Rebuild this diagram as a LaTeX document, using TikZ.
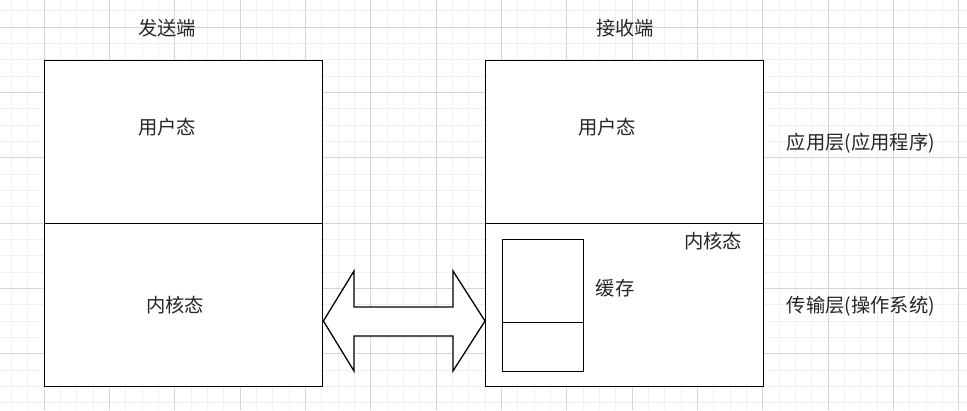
\documentclass[tikz,border=0pt]{standalone}
\usepackage{fontspec}
\setmainfont{Noto Sans CJK SC}
\usetikzlibrary{positioning}

\begin{document}
\begin{tikzpicture}[x=1pt, y=-1pt, font=\fontsize{19.3}{22}\selectfont]
    \tikzset{
        box/.style={draw, line width=1.4pt, inner sep=0pt, anchor=north west},
        minorline/.style={draw=black!6, line width=0.8pt},
        majorline/.style={draw=black!16, line width=0.9pt},
        lbl/.style={inner sep=0pt, text=black!85}
    }
    \useasboundingbox (0,0) rectangle (967,410);
    % grid
    \foreach \i in {0,...,59}
        \draw[minorline] ({-5+16.333*\i},0) -- ++(0,410);
    \foreach \i in {0,...,24}
        \draw[minorline] (0,{10.7+16.333*\i}) -- ++(967,0);
    \foreach \i in {0,...,14}
        \draw[majorline] ({44+65.333*\i},0) -- ++(0,410);
    \foreach \i in {0,...,5}
        \draw[majorline] (0,{27+65.333*\i}) -- ++(967,0);

    % sender
    \node[box, fill=white, minimum width=278pt, minimum height=163pt] (sendUser) at (44,60) {};
    \node[box, fill=white, minimum width=278pt, minimum height=163pt] (sendKernel) at (44,223) {};
    % receiver
    \node[box, fill=white, minimum width=278pt, minimum height=163pt] (recvUser) at (485,60) {};
    \node[box, fill=white, minimum width=278pt, minimum height=163pt] (recvKernel) at (485,223) {};
    \node[box, line width=1.1pt, minimum width=81pt, minimum height=83pt] (bufTop) at (502,239) {};
    \node[box, line width=1.1pt, minimum width=81pt, minimum height=49pt] (bufBot) at (502,322) {};

    % double arrow
    \draw[line width=1.3pt, fill=white, line join=miter]
        (sendKernel.east |- 0,321) -- (354,271) -- (354,307) -- (453,307) -- (453,271)
        -- (recvKernel.west |- 0,321) -- (453,371) -- (453,336) -- (354,336) -- (354,371) -- cycle;

    % labels
    \node[lbl] (sendTitle) at (167,28) {发送端};
    \node[lbl] (recvTitle) at (625,28) {接收端};
    \node[lbl] (sendUserTxt) at (167,127) {用户态};
    \node[lbl] (recvUserTxt) at (607,127) {用户态};
    \node[lbl] (sendKernelTxt) at (175,305) {内核态};
    \node[lbl] (recvKernelTxt) at (713,241) {内核态};
    \node[lbl] (bufTxt) at (615,288) {缓存};
    \node[lbl] (appLayer) at (861,143) {应用层(应用程序)};
    \node[lbl] (tcpLayer) at (861,306) {传输层(操作系统)};
\end{tikzpicture}
\end{document}
